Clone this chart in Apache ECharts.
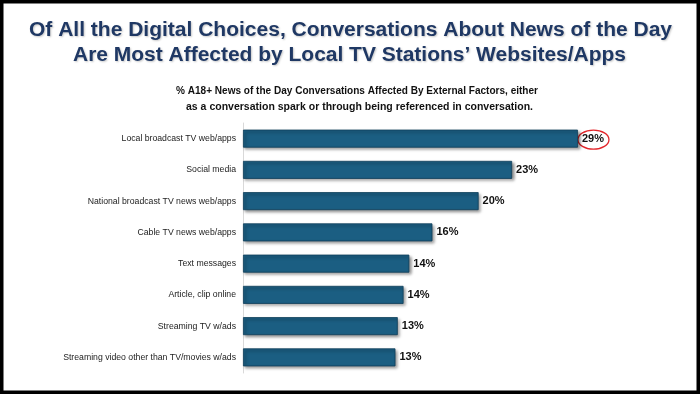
<!DOCTYPE html>
<html>
<head>
<meta charset="utf-8">
<script src="https://cdn.jsdelivr.net/npm/echarts@6/dist/echarts.min.js"></script>
<style>
html,body{margin:0;padding:0;background:#fff;}
#chart{width:700px;height:394px;}
</style>
</head>
<body>
<div id="chart"></div>
<script>
const categories = [
  'Local broadcast TV web/apps',
  'Social media',
  'National broadcast TV news web/apps',
  'Cable TV news web/apps',
  'Text messages',
  'Article, clip online',
  'Streaming TV w/ads',
  'Streaming video other than TV/movies w/ads'
];
const values = [29, 23.3, 20.4, 16.4, 14.4, 13.9, 13.4, 13.2];
const titleLines = [
  'Of All the Digital Choices, Conversations About News of the Day',
  'Are Most Affected by Local TV Stations\u2019 Websites/Apps'
];
const subtitleLines = [
  '% A18+ News of the Day Conversations Affected By External Factors, either',
  'as a conversation spark or through being referenced in conversation.'
];

const chart = echarts.init(document.getElementById('chart'), null, {renderer: 'canvas'});
const mctx = document.createElement('canvas').getContext('2d');
function fit(text, font, target) {
  mctx.font = font;
  return target / mctx.measureText(text).width;
}
const FAM = '"Liberation Sans", Arial, sans-serif';
const tFont = 'bold 20px ' + FAM;
const sFont = 'bold 10px ' + FAM;
function txt(text, font, x, y, w, fill, shadow) {
  const style = {text: text, font: font, fill: fill, align: 'center', verticalAlign: 'middle'};
  if (shadow) {
    style.textShadowColor = 'rgba(0,0,0,0.22)';
    style.textShadowBlur = 2;
    style.textShadowOffsetX = 1;
    style.textShadowOffsetY = 1;
  }
  return {type: 'text', x: x, y: y, scaleX: fit(text, font, w), style: style, silent: true};
}

chart.setOption({
  animation: false,
  grid: {left: 243, right: 110.5, top: 123, bottom: 21, containLabel: false},
  xAxis: {type: 'value', min: 0, max: 30, show: false, splitLine: {show: false}},
  yAxis: {
    type: 'category',
    data: categories,
    inverse: true,
    axisLine: {show: true, lineStyle: {color: '#d9d9d9', width: 1}},
    axisTick: {show: false},
    axisLabel: {color: '#222', fontSize: 8.7, fontFamily: FAM, margin: 7}
  },
  series: [{
    type: 'bar',
    data: values,
    barWidth: 18,
    itemStyle: {
      color: '#1b5e82',
      borderColor: '#0f3f5a',
      borderWidth: 0.8,
      shadowColor: 'rgba(0,0,0,0.45)',
      shadowBlur: 3,
      shadowOffsetX: 2,
      shadowOffsetY: 2
    },
    label: {
      show: true,
      position: 'right',
      distance: 4,
      color: '#111',
      fontSize: 11,
      fontWeight: 'bold',
      fontFamily: FAM,
      formatter: p => Math.round(p.value) + '%'
    }
  }]
});

const c = chart.convertToPixel({gridIndex: 0}, [values[0], categories[0]]);
chart.setOption({
  graphic: [
    {type: 'rect', shape: {x: 1.75, y: 1.75, width: 696.5, height: 390.5}, style: {fill: 'none', stroke: '#000', lineWidth: 3.5}, silent: true},
    txt(titleLines[0], tFont, 350.5, 30, 643, '#1f3864', true),
    txt(titleLines[1], tFont, 349.5, 55, 553, '#1f3864', true),
    txt(subtitleLines[0], sFont, 357, 91, 362, '#111', false),
    txt(subtitleLines[1], sFont, 359.5, 107, 347, '#111', false),
    {type: 'ellipse', shape: {cx: c[0] + 15.5, cy: c[1] + 1, rx: 15.5, ry: 9.5}, style: {fill: 'none', stroke: '#e3262b', lineWidth: 1.3}, silent: true}
  ]
});
</script>
</body>
</html>
